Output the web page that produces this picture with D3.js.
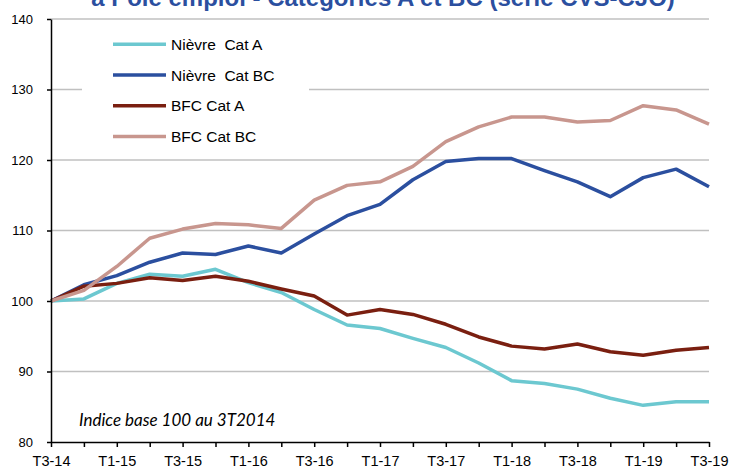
<!DOCTYPE html>
<html lang="fr">
<head>
<meta charset="UTF-8">
<title>Demandeurs d'emploi</title>
<script src="https://d3js.org/d3.v7.min.js"></script>
<style>
    body { margin: 0; background: #fff; }
    .axis text { font-family: "Liberation Sans", Arial, sans-serif; fill: #000; }
    .y.axis text { font-size: 13px; }
    .x.axis text { font-size: 14.5px; }
    .axis path, .axis line { stroke: #000; stroke-width: 1.5px; }
    .grid line { stroke: #c0c0c0; stroke-width: 1.5px; }
    .legend text { font: 15.5px "Liberation Sans", Arial, sans-serif; white-space: pre; }
</style>
</head>
<body>
<div id="chart"></div>
<script>
    const quarters = ["T3-14","T4-14","T1-15","T2-15","T3-15","T4-15","T1-16","T2-16","T3-16","T4-16",
                      "T1-17","T2-17","T3-17","T4-17","T1-18","T2-18","T3-18","T4-18","T1-19","T2-19","T3-19"];
    const nievreA  = [100, 100.3, 102.5, 103.8, 103.5, 104.5, 102.6, 101.2, 98.8, 96.6, 96.1, 94.7, 93.4, 91.2, 88.7, 88.3, 87.5, 86.2, 85.2, 85.7, 85.7];
    const nievreBC = [100, 102.3, 103.6, 105.5, 106.8, 106.6, 107.8, 106.8, 109.5, 112.1, 113.7, 117.2, 119.8, 120.2, 120.2, 118.5, 116.9, 114.8, 117.5, 118.7, 116.2];
    const bfcA     = [100, 102.1, 102.5, 103.3, 102.9, 103.5, 102.8, 101.7, 100.7, 98.0, 98.8, 98.1, 96.7, 94.9, 93.6, 93.2, 93.9, 92.8, 92.3, 93.0, 93.4];
    const bfcBC    = [100, 101.5, 104.9, 108.9, 110.2, 111.0, 110.8, 110.3, 114.3, 116.4, 116.9, 119.1, 122.6, 124.7, 126.1, 126.1, 125.4, 125.6, 127.7, 127.1, 125.1];
    const seriesNames = ["Nièvre  Cat A", "Nièvre  Cat BC", "BFC Cat A", "BFC Cat BC"];
    const seriesColors = ["#6cc8d0", "#2b4f9f", "#7a1f10", "#c8968e"];
    const yTicks = [80, 90, 100, 110, 120, 130, 140];

    const W = 731, H = 468;
    const margin = {top: 19, right: 22, bottom: 26, left: 51};
    const width = W - margin.left - margin.right,
          height = H - margin.top - margin.bottom;

    const svg = d3.select("#chart").append("svg")
        .attr("width", W)
        .attr("height", H);

    // title: only the bottom of its second line is inside the frame
    svg.append("text")
        .attr("x", 383)
        .attr("y", 6)
        .attr("text-anchor", "middle")
        .style("font", "bold 24px 'Liberation Sans', Arial, sans-serif")
        .style("fill", "#2b4f9f")
        .text("à Pôle emploi - Catégories A et BC (série CVS-CJO)");

    const g = svg.append("g")
        .attr("transform", `translate(${margin.left},${margin.top})`);

    const x = d3.scalePoint()
        .domain(quarters)
        .range([0, width]);

    const y = d3.scaleLinear()
        .domain([80, 140])
        .range([height, 0]);

    g.append("g")
        .attr("class", "grid")
        .selectAll("line")
        .data(yTicks.filter(d => d > 80))
        .enter().append("line")
          .attr("x1", 0)
          .attr("x2", width)
          .attr("y1", d => y(d))
          .attr("y2", d => y(d));

    // legend background hides the grid behind it
    const legend = g.append("g").attr("class", "legend");
    legend.append("rect")
        .attr("x", 31)
        .attr("y", 6)
        .attr("width", 227)
        .attr("height", 128)
        .attr("fill", "#fff");

    const data = [nievreA, nievreBC, bfcA, bfcBC];
    const line = d3.line()
        .x((d, i) => x(quarters[i]))
        .y(d => y(d));

    g.append("g")
        .selectAll("path")
        .data(data)
        .enter().append("path")
          .attr("d", line)
          .attr("fill", "none")
          .attr("stroke", (d, i) => seriesColors[i])
          .attr("stroke-width", 3.5)
          .attr("stroke-linejoin", "round");

    const items = legend.selectAll(".item")
        .data(seriesNames)
        .enter().append("g")
          .attr("class", "item")
          .attr("transform", (d, i) => `translate(62,${25.3 + i * 30.7})`);

    items.append("line")
        .attr("x1", 0)
        .attr("x2", 53)
        .attr("stroke", (d, i) => seriesColors[i])
        .attr("stroke-width", 3.5);

    items.append("text")
        .attr("x", 58)
        .attr("dy", "0.36em")
        .text(d => d);

    g.append("g")
        .attr("class", "y axis")
        .call(d3.axisLeft(y).tickValues(yTicks).tickSize(4).tickPadding(14).tickSizeOuter(0));

    g.append("g")
        .attr("class", "x axis")
        .attr("transform", `translate(0,${height})`)
        .call(d3.axisBottom(x).tickSize(5).tickPadding(8.5).tickSizeOuter(0)
            .tickFormat((d, i) => i % 2 === 0 ? d : ""));

    g.append("text")
        .attr("x", 28)
        .attr("y", 407)
        .style("font", "italic 17px Lato, 'Open Sans', sans-serif")
        .text("Indice base 100 au 3T2014");
</script>
</body>
</html>
